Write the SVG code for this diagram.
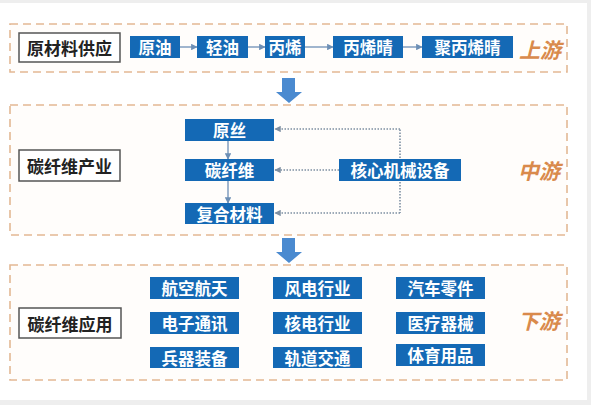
<svg xmlns="http://www.w3.org/2000/svg" width="591" height="405" viewBox="0 0 591 405">
<defs>
<style>
.frame{fill:#fffdfb;stroke:#e3b894;stroke-width:1.6;stroke-dasharray:8 5}
.lbl{fill:#fff;stroke:#555;stroke-width:1.5}
.lt{font-family:"Noto Sans CJK SC",sans-serif;font-size:17px;font-weight:bold;fill:#222;text-anchor:middle;dominant-baseline:central}
.bx{fill:#1469b5}
.bt{font-family:"Noto Sans CJK SC",sans-serif;font-size:16.5px;font-weight:bold;fill:#fff;text-anchor:middle;dominant-baseline:central}
.stage{font-family:"Noto Sans CJK SC",sans-serif;font-size:21px;font-weight:bold;font-style:italic;fill:#d98a4c;text-anchor:middle;dominant-baseline:central}
.ln{stroke:#6d8fb5;stroke-width:1.3;fill:none}
.dot{stroke:#7d8fa3;stroke-width:1.6;fill:none;stroke-dasharray:1.5 1.5}
.big{fill:#4a8ad0}
</style>
<marker id="ah" viewBox="0 0 10 10" refX="9" refY="5" markerWidth="5" markerHeight="5" orient="auto">
<path d="M0,0 L10,5 L0,10 z" fill="#6d8fb5"/>
</marker>
<marker id="ad" viewBox="0 0 10 10" refX="9" refY="5" markerWidth="4" markerHeight="4" orient="auto">
<path d="M0,0 L10,5 L0,10 z" fill="#7d8fa3"/>
</marker>
</defs>
<rect x="0" y="0" width="591" height="405" fill="#eeeeee"/>
<rect x="0" y="3" width="587" height="397" fill="#ffffff"/>

<g id="frames">
<rect class="frame" x="10" y="24" width="557" height="48"/>
<rect class="frame" x="10" y="105" width="557" height="130"/>
<rect class="frame" x="10" y="265" width="557" height="115"/>
</g>

<g id="connectors">
<line class="ln" x1="180" y1="47" x2="197" y2="47" marker-end="url(#ah)"/>
<line class="ln" x1="248" y1="47" x2="265" y2="47" marker-end="url(#ah)"/>
<line class="ln" x1="305" y1="47" x2="333" y2="47" marker-end="url(#ah)"/>
<line class="ln" x1="403" y1="47" x2="422" y2="47" marker-end="url(#ah)"/>
<line class="ln" x1="228" y1="141" x2="228" y2="159" marker-end="url(#ah)"/>
<line class="ln" x1="228" y1="181" x2="228" y2="203" marker-end="url(#ah)"/>
<path class="dot" d="M400,170 V129"/>
<path class="dot" d="M400,170 V213"/>
<path class="dot" d="M400,129 H275" marker-end="url(#ad)"/>
<path class="dot" d="M339,170 H275" marker-end="url(#ad)"/>
<path class="dot" d="M400,213 H275" marker-end="url(#ad)"/>
<path class="big" d="M282,78 H295 V92 H302 L289,103 L276,92 H282 Z"/>
<path class="big" d="M282,238 H295 V252 H302 L289,263 L276,252 H282 Z"/>
</g>

<g id="n-raw"><rect class="lbl" x="19" y="33" width="101" height="29"/><text class="lt" x="69.5" y="47.5">原材料供应</text></g>
<g id="n-yuanyou"><rect class="bx" x="130" y="36" width="50" height="22"/><text class="bt" x="155" y="47">原油</text></g>
<g id="n-qingyou"><rect class="bx" x="197" y="36" width="51" height="22"/><text class="bt" x="222.5" y="47">轻油</text></g>
<g id="n-bingxi"><rect class="bx" x="265" y="36" width="40" height="22"/><text class="bt" x="285" y="47">丙烯</text></g>
<g id="n-bingxiqing"><rect class="bx" x="333" y="36" width="70" height="22"/><text class="bt" x="368" y="47">丙烯晴</text></g>
<g id="n-jubingxiqing"><rect class="bx" x="422" y="36" width="91" height="22"/><text class="bt" x="467.5" y="47">聚丙烯晴</text></g>
<g id="s-up"><text class="stage" x="540" y="49">上游</text></g>

<g id="n-industry"><rect class="lbl" x="19" y="150" width="101" height="31"/><text class="lt" x="69.5" y="165.5">碳纤维产业</text></g>
<g id="n-yuansi"><rect class="bx" x="185" y="119" width="89" height="22"/><text class="bt" x="229.5" y="130">原丝</text></g>
<g id="n-tanxianwei"><rect class="bx" x="185" y="159" width="89" height="22"/><text class="bt" x="229.5" y="170">碳纤维</text></g>
<g id="n-fuhe"><rect class="bx" x="185" y="203" width="89" height="21"/><text class="bt" x="229.5" y="213.5">复合材料</text></g>
<g id="n-equip"><rect class="bx" x="339" y="159" width="122" height="22"/><text class="bt" x="400" y="170">核心机械设备</text></g>
<g id="s-mid"><text class="stage" x="539" y="170">中游</text></g>

<g id="n-app"><rect class="lbl" x="19" y="308" width="102" height="30"/><text class="lt" x="70" y="323">碳纤维应用</text></g>
<g id="n-a1"><rect class="bx" x="150" y="277" width="89" height="22"/><text class="bt" x="194.5" y="288">航空航天</text></g>
<g id="n-a2"><rect class="bx" x="150" y="312" width="89" height="22"/><text class="bt" x="194.5" y="323">电子通讯</text></g>
<g id="n-a3"><rect class="bx" x="150" y="347" width="89" height="21"/><text class="bt" x="194.5" y="357.5">兵器装备</text></g>
<g id="n-b1"><rect class="bx" x="273" y="277" width="89" height="22"/><text class="bt" x="317.5" y="288">风电行业</text></g>
<g id="n-b2"><rect class="bx" x="273" y="312" width="89" height="22"/><text class="bt" x="317.5" y="323">核电行业</text></g>
<g id="n-b3"><rect class="bx" x="273" y="347" width="89" height="21"/><text class="bt" x="317.5" y="357.5">轨道交通</text></g>
<g id="n-c1"><rect class="bx" x="396" y="277" width="89" height="22"/><text class="bt" x="440.5" y="288">汽车零件</text></g>
<g id="n-c2"><rect class="bx" x="396" y="312" width="89" height="22"/><text class="bt" x="440.5" y="323">医疗器械</text></g>
<g id="n-c3"><rect class="bx" x="396" y="344" width="89" height="22"/><text class="bt" x="440.5" y="355">体育用品</text></g>
<g id="s-down"><text class="stage" x="539" y="320">下游</text></g>
</svg>
